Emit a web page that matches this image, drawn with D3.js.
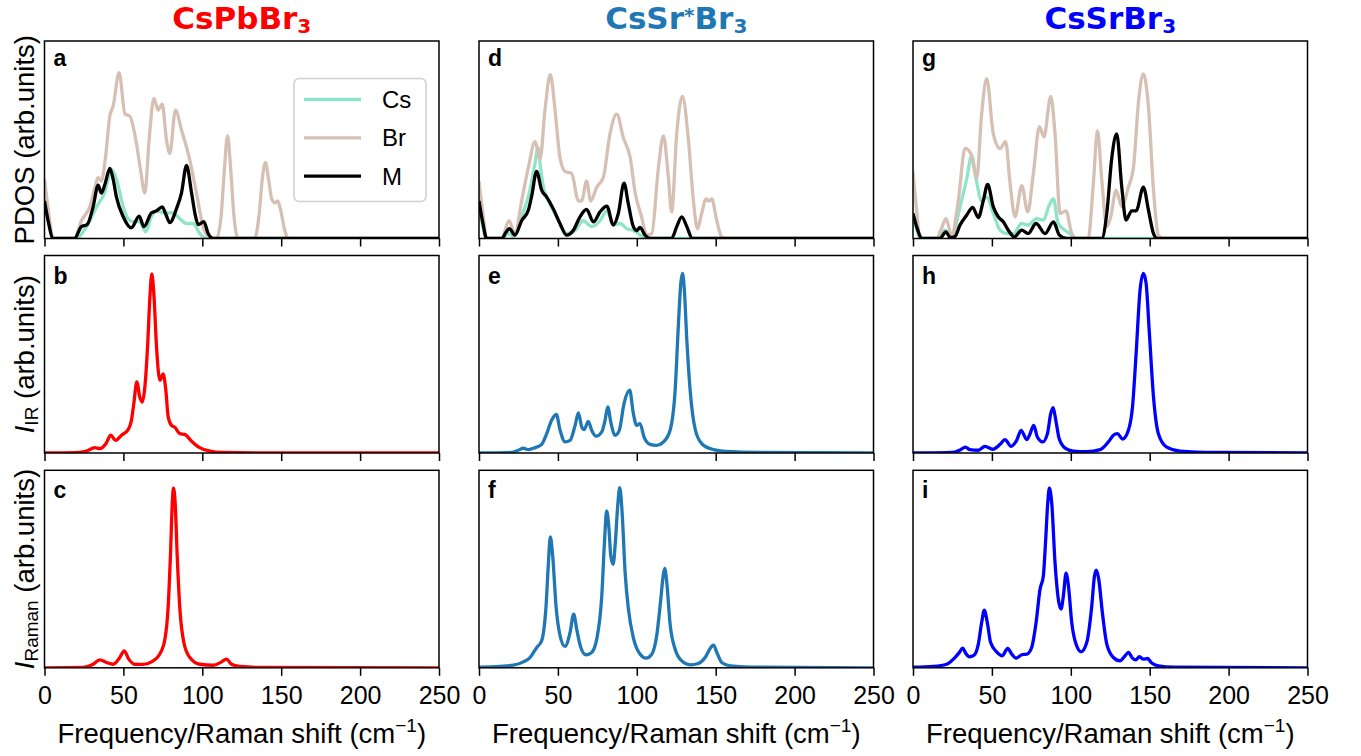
<!DOCTYPE html>
<html>
<head>
<meta charset="utf-8">
<script src="https://cdn.jsdelivr.net/npm/d3@7"></script>
<style>
  body { margin: 0; background: #fff; }
  text { font-family: "Liberation Sans", Arial, sans-serif; }
</style>
</head>
<body>
<svg id="chart" width="1361" height="756"></svg>
<script>
// x ticks shared by every panel (cm^-1)
const freqTicks = [0, 50, 100, 150, 200, 250];
const compounds = ["CsPbBr3", "CsSr*Br3", "CsSrBr3"];
const speciesNames = ["Cs", "Br", "M"];
const panelLetters = ["a", "b", "c", "d", "e", "f", "g", "h", "i"];

// PDOS, CsPbBr3 (panel a) — [frequency, arb. units]
const pdosPbCs = [[0,0.2],[2.3,0.09],[6.5,0],[20,0],[26.6,0.06],[33,0.16],[38,0.23],[42.5,0.35],[45.6,0.30],[49.9,0.16],[53,0.10],[56,0.085],[60.4,0.085],[64,0.034],[67.8,0.11],[71,0.14],[75.2,0.13],[81.5,0.13],[85.8,0.10],[90,0.076],[94.2,0.076],[98.4,0.025],[102.7,0],[250,0]];
const pdosPbBr = [[0,0.30],[2.3,0.15],[5.5,0],[19,0],[23.4,0.09],[28.7,0.16],[32,0.26],[34,0.31],[36,0.29],[38.5,0.40],[41.4,0.62],[43.5,0.67],[47.3,0.84],[51,0.63],[54,0.62],[58.3,0.48],[61,0.34],[63.6,0.23],[66.3,0.50],[69.3,0.71],[72,0.65],[74.6,0.68],[77.3,0.50],[79.4,0.43],[83,0.65],[86.8,0.55],[92,0.40],[96.3,0.23],[100.5,0.06],[104,0.01],[107,0],[109,0],[112,0.12],[114,0.35],[116,0.52],[118,0.35],[120,0.12],[122.7,0],[133,0],[136,0.12],[138,0.3],[140,0.385],[142,0.3],[144,0.2],[146,0.18],[147.7,0.19],[149.5,0.15],[152,0.05],[154.4,0],[250,0]];
const pdosPbM = [[0,0.19],[2.3,0.09],[5.5,0],[19,0],[23.4,0.06],[27,0.07],[30.8,0.16],[34,0.27],[36,0.23],[38.5,0.28],[41.4,0.355],[43.5,0.3],[45.6,0.21],[49.9,0.11],[55,0.054],[60,0.113],[63,0.06],[67.8,0.13],[71,0.14],[74.6,0.16],[77,0.12],[79.4,0.08],[83.6,0.15],[86.8,0.23],[90,0.37],[93.2,0.23],[95.5,0.12],[97.4,0.07],[101,0.085],[103.7,0.025],[107,0],[250,0]];

// PDOS, CsSr*Br3 (panel d)
const pdosSrsCs = [[0,0.16],[2.2,0.07],[4.4,0],[14.4,0],[18.6,0.025],[22,0.01],[27,0.11],[32.3,0.245],[35.5,0.38],[37.4,0.46],[39,0.36],[40.8,0.26],[44,0.19],[49.2,0.11],[55.5,0.025],[60.8,0.04],[66,0.09],[71.4,0.06],[76.7,0.09],[81,0.14],[85.1,0.07],[89.4,0.076],[93.6,0.05],[97.8,0.04],[104,0.008],[106.3,0],[250,0]];
const pdosSrsBr = [[0,0.29],[2.4,0.13],[4.9,0],[14.4,0],[19,0.09],[22.8,0.025],[27,0.19],[31.3,0.36],[35.5,0.49],[38.7,0.40],[41.8,0.65],[45.2,0.83],[48.2,0.65],[51.3,0.41],[54.5,0.34],[58.7,0.33],[63,0.19],[65,0.19],[68.2,0.29],[70.8,0.19],[74.6,0.26],[78.8,0.31],[83,0.53],[87.3,0.63],[91.5,0.51],[95.8,0.41],[99,0.23],[103,0.11],[106.3,0.017],[109.5,0.025],[113.7,0.36],[116.9,0.52],[120,0.31],[122.1,0.135],[125.3,0.53],[128.9,0.72],[132.7,0.50],[135.9,0.19],[138.4,0.05],[141.1,0.127],[143.9,0.20],[145.7,0.19],[147.5,0.20],[150.7,0.09],[153.8,0.008],[157,0],[250,0]];
const pdosSrsM = [[0,0.19],[2.4,0.08],[4.9,0],[14.4,0],[17,0.03],[19.2,0.05],[22.8,0.017],[27,0.09],[31.3,0.144],[33.5,0.22],[36.5,0.34],[39.7,0.245],[42.9,0.21],[47.1,0.15],[51.3,0.076],[55.5,0.017],[59.8,0.042],[64,0.11],[68.2,0.147],[72.5,0.084],[76.7,0.135],[81,0.164],[85.1,0.068],[88.3,0.127],[91.9,0.28],[94.6,0.177],[97.8,0.06],[100,0.04],[102,0.056],[105.2,0.017],[108.4,0],[122,0],[125.3,0.06],[128.5,0.11],[131.7,0.06],[135.2,0],[250,0]];

// PDOS, CsSrBr3 (panel g)
const pdosSrCs = [[0,0.127],[2.2,0.05],[4.4,0],[15,0],[20.3,0.042],[24.5,0.008],[29.8,0.16],[34,0.30],[37.2,0.42],[40,0.30],[43.5,0.19],[46.7,0.21],[50.9,0.127],[55.2,0.042],[59.4,0.025],[63.6,0.025],[68.9,0.076],[73,0.068],[78.4,0.10],[82.6,0.093],[86.4,0.17],[89,0.20],[92,0.076],[96.4,0.042],[100.6,0.017],[103.8,0],[250,0]];
const pdosSrBr = [[0,0.34],[2.2,0.15],[4.4,0],[15,0],[18,0.05],[20.9,0.10],[24.5,0.017],[28.7,0.19],[33,0.456],[36.6,0.43],[40.4,0.31],[43.5,0.63],[46.7,0.81],[50.9,0.53],[55.2,0.456],[58.7,0.49],[61.5,0.28],[64.7,0.11],[68.9,0.267],[72.7,0.135],[76.3,0.33],[80.1,0.566],[83,0.515],[87.3,0.72],[90,0.53],[93.2,0.127],[97,0.14],[100.6,0.025],[103.8,0],[111,0],[114.3,0.28],[116.9,0.546],[119.6,0.30],[122.8,0.06],[125.3,0.11],[128.7,0.245],[132.3,0.16],[136.5,0.26],[139.7,0.36],[143,0.70],[146,0.833],[149.2,0.667],[152.4,0.245],[155.5,0.017],[158.7,0],[250,0]];
const pdosSrM = [[0,0.127],[2.7,0.05],[5.5,0],[17,0],[20.9,0.034],[23.5,0.005],[26.6,0.01],[29.8,0.068],[34,0.118],[37.8,0.157],[41.4,0.106],[44.6,0.194],[47.3,0.274],[50.9,0.16],[54,0.11],[57.3,0.084],[60.4,0.042],[64.2,0.008],[68.9,0.042],[73,0.025],[78,0.076],[83.7,0.025],[89,0.084],[92.8,0.017],[97.4,0],[119.6,0],[122.8,0.127],[126,0.41],[129.1,0.53],[132.3,0.26],[135,0.093],[138.6,0.14],[141.4,0.14],[146,0.26],[149.2,0.144],[152.4,0.025],[154.9,0],[250,0]];

// IR intensity (panels b, e, h)
const irPb = [[0,0],[20,0.002],[26.6,0.01],[31.9,0.027],[35,0.022],[38.9,0.047],[42,0.09],[45,0.064],[48.8,0.09],[53,0.118],[55.1,0.165],[56.6,0.25],[58.5,0.36],[60.4,0.283],[61.9,0.258],[63.6,0.334],[65.3,0.536],[66.8,0.79],[68,0.907],[69.3,0.806],[71,0.536],[73.1,0.368],[75.2,0.40],[76.9,0.317],[78.4,0.182],[80.5,0.14],[82.6,0.13],[85.8,0.098],[88.9,0.094],[93.2,0.06],[98.4,0.027],[104.8,0.01],[113,0.003],[140,0],[250,0]];
const irSrs = [[0,0],[17.5,0.002],[21.8,0.005],[24.9,0.014],[28.1,0.024],[31.3,0.017],[35.5,0.027],[39.7,0.044],[42.9,0.098],[46,0.166],[49,0.195],[51.4,0.115],[54.5,0.056],[57.7,0.064],[60.9,0.14],[63,0.203],[65.1,0.132],[66.6,0.118],[69.3,0.16],[71.4,0.115],[74.2,0.085],[77.8,0.107],[79.9,0.166],[81.6,0.234],[83.5,0.157],[86.2,0.09],[88.9,0.115],[91.9,0.25],[95.5,0.318],[97.8,0.2],[99.9,0.14],[102,0.149],[104.6,0.081],[108.4,0.044],[112.6,0.039],[116.9,0.056],[121.1,0.115],[124.3,0.318],[126.4,0.656],[127.9,0.86],[128.9,0.91],[130,0.843],[131.7,0.572],[133.8,0.318],[136.9,0.124],[141.2,0.047],[148.6,0.017],[157,0.008],[178,0.003],[250,0]];
const irSr = [[0,0],[21.3,0.002],[26.6,0.005],[30.2,0.017],[33.2,0.03],[36.1,0.017],[41.4,0.014],[45.6,0.034],[50.5,0.019],[55.2,0.044],[58.3,0.068],[62.1,0.034],[65.7,0.064],[68.5,0.115],[72.1,0.068],[74.2,0.098],[76.5,0.14],[78.8,0.081],[82.2,0.056],[85.2,0.098],[87.3,0.2],[88.8,0.23],[90.5,0.166],[92.6,0.073],[96.4,0.025],[101.6,0.01],[110,0.007],[118.6,0.017],[123.8,0.056],[127,0.09],[129.5,0.098],[132.9,0.071],[136.5,0.115],[139.1,0.234],[141.4,0.504],[143.9,0.826],[146,0.91],[147.7,0.86],[149.8,0.606],[152.4,0.284],[155.5,0.098],[160.8,0.03],[169.3,0.01],[192.5,0.003],[250,0]];

// Raman intensity (panels c, f, i)
const ramanPb = [[0,0],[24.5,0.002],[26.6,0.005],[30.8,0.018],[35,0.04],[39.3,0.027],[43.5,0.018],[47.7,0.052],[50.5,0.086],[53.4,0.044],[57.2,0.018],[62.5,0.017],[67.8,0.03],[73,0.069],[76.3,0.145],[78.4,0.314],[79.8,0.567],[81.1,0.853],[81.7,0.909],[82.8,0.836],[84.1,0.567],[85.8,0.297],[88.3,0.128],[92.1,0.052],[98.4,0.018],[106.9,0.013],[112.2,0.03],[115.3,0.044],[118.5,0.018],[123.8,0.007],[136.5,0.002],[250,0]];
const ramanSrs = [[0,0.003],[13.3,0.007],[21.8,0.013],[28.1,0.03],[32.3,0.052],[36.6,0.103],[39.7,0.137],[42.5,0.314],[44,0.533],[45.2,0.663],[46.7,0.567],[48.8,0.314],[51.4,0.162],[54.5,0.108],[57.7,0.179],[60,0.272],[61.9,0.196],[64.5,0.103],[67.8,0.066],[71.4,0.078],[74.6,0.145],[77.8,0.364],[79.5,0.634],[80.9,0.794],[82.4,0.701],[83.5,0.567],[85,0.524],[86.4,0.634],[87.9,0.82],[89.2,0.912],[90.7,0.786],[92.6,0.482],[94.7,0.297],[97.8,0.153],[102.1,0.069],[105.9,0.049],[109.5,0.069],[112.6,0.162],[115.2,0.347],[116.7,0.465],[117.7,0.503],[119,0.432],[121.1,0.221],[124.3,0.094],[128.5,0.035],[133.8,0.015],[139,0.022],[143.3,0.052],[146.9,0.103],[148.6,0.115],[150.7,0.078],[153.8,0.027],[159.1,0.01],[178,0.003],[250,0]];
const ramanSr = [[0,0.003],[12.9,0.007],[21.3,0.018],[26.6,0.052],[29.4,0.078],[31.5,0.1],[33.4,0.074],[35.7,0.056],[38.7,0.064],[41.4,0.12],[43.5,0.229],[45.2,0.292],[47.1,0.229],[49.2,0.128],[53,0.081],[56.6,0.061],[60,0.098],[62.6,0.069],[65.3,0.049],[68.9,0.066],[72.1,0.069],[75.2,0.103],[78,0.229],[80.5,0.398],[82.6,0.465],[84.1,0.651],[85.4,0.836],[86.4,0.909],[87.9,0.836],[90,0.533],[92.1,0.347],[93.8,0.297],[95.3,0.364],[97,0.479],[98.5,0.415],[100.6,0.229],[103.3,0.12],[106.5,0.081],[110.1,0.128],[113.3,0.314],[115,0.465],[116.2,0.494],[117.7,0.449],[120,0.28],[122.8,0.12],[127,0.052],[131.2,0.035],[134.4,0.061],[136.5,0.078],[139.1,0.049],[141.2,0.04],[143.5,0.056],[146,0.044],[148.6,0.047],[151.3,0.024],[155.5,0.01],[165,0.003],[250,0]];

// ---- layout ----
const colLeft = [44.5, 479, 913];
const rowTop = [41, 255.5, 470.3];
const panelW = 394.5;
const panelH = 197.5;
const letterDy = [25, 28, 27.5];

const compoundColors = ["#ff0000", "#1f77b4", "#0000ff"];
const speciesColors = { Cs: "#8ee4c9", Br: "#d6c0b3", M: "#000000" };

const pdos = [
  { Cs: pdosPbCs, Br: pdosPbBr, M: pdosPbM },
  { Cs: pdosSrsCs, Br: pdosSrsBr, M: pdosSrsM },
  { Cs: pdosSrCs, Br: pdosSrBr, M: pdosSrM },
];
const ir = [irPb, irSrs, irSr];
const raman = [ramanPb, ramanSrs, ramanSr];

const svg = d3.select("#chart");
const defs = svg.append("defs");

const x = d3.scaleLinear().domain([0, 250]).range([0, panelW]);
const y = d3.scaleLinear().domain([0, 1]).range([panelH, 0]);
const line = d3
  .line()
  .x((d) => x(d[0]))
  .y((d) => y(d[1]))
  .curve(d3.curveMonotoneX);

function drawPanel(col, row, series) {
  const id = `clip-${col}-${row}`;
  defs.append("clipPath").attr("id", id)
    .append("rect").attr("width", panelW).attr("height", panelH);

  const g = svg.append("g")
    .attr("transform", `translate(${colLeft[col]},${rowTop[row]})`);

  const axis = d3.axisBottom(x).tickValues(freqTicks).tickSize(8).tickPadding(10)
    .tickFormat(row === 2 ? d3.format("d") : () => "");
  const ax = g.append("g").attr("transform", `translate(0,${panelH})`).call(axis);
  ax.select(".domain").remove();
  ax.selectAll(".tick line").attr("stroke", "#000").attr("stroke-width", 1.5);
  ax.selectAll(".tick text")
    .attr("fill", "#000")
    .style("font-family", '"Liberation Sans", Arial, sans-serif')
    .style("font-size", "25px");

  const plot = g.append("g").attr("clip-path", `url(#${id})`);
  series.forEach((s) => {
    plot.append("path")
      .datum(s.data)
      .attr("d", line)
      .attr("fill", "none")
      .attr("stroke", s.color)
      .attr("stroke-width", 3.3)
      .attr("stroke-linejoin", "round");
  });

  g.append("rect")
    .attr("width", panelW).attr("height", panelH)
    .attr("fill", "none").attr("stroke", "#000").attr("stroke-width", 1.5);

  g.append("text")
    .attr("x", 9).attr("y", letterDy[row])
    .attr("font-size", 23).attr("font-weight", "bold")
    .text(panelLetters[col * 3 + row]);

  if (row === 2) {
    const t = g.append("text")
      .attr("x", panelW / 2).attr("y", panelH + 75)
      .attr("text-anchor", "middle").attr("font-size", 27.5);
    t.append("tspan").text("Frequency/Raman shift (cm");
    t.append("tspan").attr("font-size", 19).attr("dy", -11).text("\u22121");
    t.append("tspan").attr("dy", 11).text(")");
  }
  return g;
}

compounds.forEach((name, col) => {
  drawPanel(col, 0, speciesNames.map((sp) => ({ data: pdos[col][sp], color: speciesColors[sp] })));
  drawPanel(col, 1, [{ data: ir[col], color: compoundColors[col] }]);
  drawPanel(col, 2, [{ data: raman[col], color: compoundColors[col] }]);

  // column title
  const title = svg.append("text")
    .attr("x", colLeft[col] + panelW / 2).attr("y", 29)
    .attr("text-anchor", "middle")
    .attr("fill", compoundColors[col])
    .style("font-family", '"DejaVu Sans", sans-serif')
    .attr("font-weight", "bold").attr("font-size", 31);
  const base = name.replace("3", "").split("*");
  title.append("tspan").text(base[0]);
  if (base.length > 1) {
    title.append("tspan").attr("font-size", 20).attr("dy", -7).text("*");
    title.append("tspan").attr("dy", 7).text(base[1]);
  }
  title.append("tspan").attr("font-size", 20).attr("dy", 4).text("3");
});

// y labels
const ylab = [
  { parts: [["PDOS (arb.units)", null]] },
  { parts: [["I", "italic"], ["IR", "sub"], [" (arb.units)", null]] },
  { parts: [["I", "italic"], ["Raman", "sub"], [" (arb.units)", null]] },
];
ylab.forEach((lab, row) => {
  const cy = rowTop[row] + panelH / 2;
  const t = svg.append("text")
    .attr("transform", `translate(34,${cy}) rotate(-90)`)
    .attr("text-anchor", "middle").attr("font-size", 27.5);
  let shifted = false;
  lab.parts.forEach(([txt, kind]) => {
    const ts = t.append("tspan").text(txt);
    if (kind === "italic") ts.attr("font-style", "italic");
    if (kind === "sub") { ts.attr("font-size", 19).attr("dy", 4); shifted = true; }
    else if (shifted) { ts.attr("dy", -4); shifted = false; }
  });
});

// legend in panel a
const leg = svg.append("g").attr("transform", "translate(294,78.5)");
leg.append("rect")
  .attr("width", 132).attr("height", 123).attr("rx", 5)
  .attr("fill", "#fff").attr("fill-opacity", 0.8)
  .attr("stroke", "#d0d0d0").attr("stroke-width", 1.5);
speciesNames.forEach((sp, i) => {
  const ly = 21 + i * 38.3;
  leg.append("line")
    .attr("x1", 10).attr("x2", 67).attr("y1", ly).attr("y2", ly)
    .attr("stroke", speciesColors[sp]).attr("stroke-width", 3.3);
  leg.append("text")
    .attr("x", 88).attr("y", ly).attr("dy", "0.35em")
    .attr("font-size", 24).text(sp);
});
</script>
</body>
</html>
